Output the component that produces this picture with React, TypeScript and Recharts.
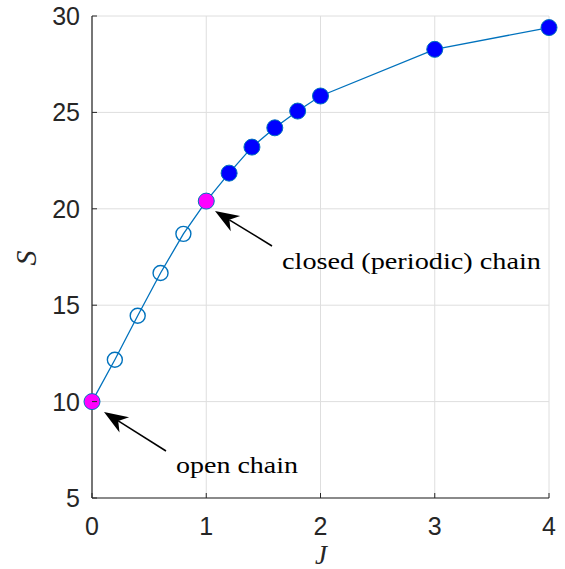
import React from "react";
import {
  LineChart,
  Line,
  XAxis,
  YAxis,
  CartesianGrid,
  Customized,
} from "recharts";

// coupling strength J and the resulting S for each run
const couplings = [0, 0.2, 0.4, 0.6, 0.8, 1, 1.2, 1.4, 1.6, 1.8, 2, 3, 4];
const sValues = [10, 12.17, 14.45, 16.67, 18.7, 20.4, 21.85, 23.2, 24.2, 25.07, 25.85, 28.27, 29.4];
// "end" = open/closed chain limits, "open" = hollow marker, "fill" = filled blue
const markerKinds = ["end", "open", "open", "open", "open", "end", "fill", "fill", "fill", "fill", "fill", "fill", "fill"];

const xTicks = [0, 1, 2, 3, 4];
const yTicks = [5, 10, 15, 20, 25, 30];

const data = couplings.map((J, i) => ({ J, S: sValues[i], kind: markerKinds[i] }));

const W = 565;
const H = 569;
const PLOT_LEFT = 92;
const PLOT_BOTTOM = 498;
const TICK_LEN = 5;
const AXIS_COLOR = "#262626";
const LINE_COLOR = "#0072BD";
const SANS = "'Liberation Sans', Arial, Helvetica, sans-serif";
const SERIF = "'Liberation Serif', 'DejaVu Serif', serif";

function XTick({ x, payload }: any) {
  return (
    <g>
      <line x1={x} x2={x} y1={PLOT_BOTTOM} y2={PLOT_BOTTOM - TICK_LEN} stroke={AXIS_COLOR} strokeWidth={1} />
      <text x={x} y={PLOT_BOTTOM + 37} textAnchor="middle" fontSize={25} fontFamily={SANS} fill={AXIS_COLOR}>
        {payload.value}
      </text>
    </g>
  );
}

function YTick({ y, payload }: any) {
  return (
    <g>
      <line x1={PLOT_LEFT} x2={PLOT_LEFT + TICK_LEN} y1={y} y2={y} stroke={AXIS_COLOR} strokeWidth={1} />
      <text x={PLOT_LEFT - 12} y={y + 9} textAnchor="end" fontSize={25} fontFamily={SANS} fill={AXIS_COLOR}>
        {payload.value}
      </text>
    </g>
  );
}

function Marker({ cx, cy, payload, index }: any) {
  if (cx == null || cy == null) return null;
  if (payload.kind === "open") {
    return <circle key={index} cx={cx} cy={cy} r={7.5} fill="none" stroke={LINE_COLOR} strokeWidth={1.4} />;
  }
  const fill = payload.kind === "end" ? "#FF00FF" : "#0000FF";
  return <circle key={index} cx={cx} cy={cy} r={8} fill={fill} stroke={LINE_COLOR} strokeWidth={1} />;
}

function Arrow({ x1, y1, x2, y2 }: { x1: number; y1: number; x2: number; y2: number }) {
  const ang = Math.atan2(y2 - y1, x2 - x1);
  const len = 24;
  const half = 9;
  const bx = x2 - len * Math.cos(ang);
  const by = y2 - len * Math.sin(ang);
  const nx = -Math.sin(ang);
  const ny = Math.cos(ang);
  const inner = 0.7;
  const ix = x2 - len * inner * Math.cos(ang);
  const iy = y2 - len * inner * Math.sin(ang);
  return (
    <g>
      <line x1={x1} y1={y1} x2={ix} y2={iy} stroke="#000" strokeWidth={1.5} />
      <polygon
        points={`${x2},${y2} ${bx + nx * half},${by + ny * half} ${ix},${iy} ${bx - nx * half},${by - ny * half}`}
        fill="#000"
      />
    </g>
  );
}

function Annotations() {
  return (
    <g>
      <Arrow x1={166} y1={451} x2={104} y2={412} />
      <text x={176} y={473} fontSize={24} fontFamily={SERIF} fill="#000" textLength={122} lengthAdjust="spacingAndGlyphs">
        open chain
      </text>
      <Arrow x1={272} y1={246} x2={215} y2={211} />
      <text x={282} y={269} fontSize={24} fontFamily={SERIF} fill="#000" textLength={259} lengthAdjust="spacingAndGlyphs">
        closed (periodic) chain
      </text>
      <text x={321} y={564} textAnchor="middle" fontSize={27} fontStyle="italic" fontFamily={SERIF} fill={AXIS_COLOR}>
        J
      </text>
      <text
        x={25}
        y={258}
        transform="rotate(-90 25 258)"
        textAnchor="middle"
        dominantBaseline="central"
        fontSize={30}
        fontStyle="italic"
        fontFamily={SERIF}
        fill={AXIS_COLOR}
      >
        S
      </text>
    </g>
  );
}

export default function App() {
  return (
    <div style={{ position: "absolute", top: 0, left: 0, width: W, height: H, background: "#fff" }}>
      <LineChart width={W} height={H} data={data} margin={{ top: 16, right: 16, bottom: 0, left: 0 }}>
        <CartesianGrid stroke="#dedede" strokeWidth={1} xAxisId="b" yAxisId="l" />
        <XAxis
          xAxisId="b"
          dataKey="J"
          type="number"
          domain={[0, 4]}
          ticks={xTicks}
          height={71}
          tickLine={false}
          axisLine={{ stroke: AXIS_COLOR, strokeWidth: 1.2 }}
          tick={<XTick />}
          interval={0}
        />
        <XAxis
          xAxisId="t"
          orientation="top"
          dataKey="J"
          type="number"
          domain={[0, 4]}
          ticks={xTicks}
          height={0}
          mirror
          tick={false}
          tickSize={TICK_LEN}
          tickLine={{ stroke: AXIS_COLOR }}
          axisLine={{ stroke: AXIS_COLOR, strokeWidth: 1.2 }}
        />
        <YAxis
          yAxisId="l"
          type="number"
          domain={[5, 30]}
          ticks={yTicks}
          width={92}
          tickLine={false}
          axisLine={{ stroke: AXIS_COLOR, strokeWidth: 1.2 }}
          tick={<YTick />}
          interval={0}
        />
        <YAxis
          yAxisId="r"
          orientation="right"
          type="number"
          domain={[5, 30]}
          ticks={yTicks}
          width={0}
          mirror
          tick={false}
          tickSize={TICK_LEN}
          tickLine={{ stroke: AXIS_COLOR }}
          axisLine={{ stroke: AXIS_COLOR, strokeWidth: 1.2 }}
        />
        <Line
          xAxisId="b"
          yAxisId="l"
          dataKey="S"
          type="linear"
          stroke={LINE_COLOR}
          strokeWidth={1.3}
          dot={<Marker />}
          activeDot={false}
          isAnimationActive={false}
        />
        <Customized component={Annotations} />
      </LineChart>
    </div>
  );
}
